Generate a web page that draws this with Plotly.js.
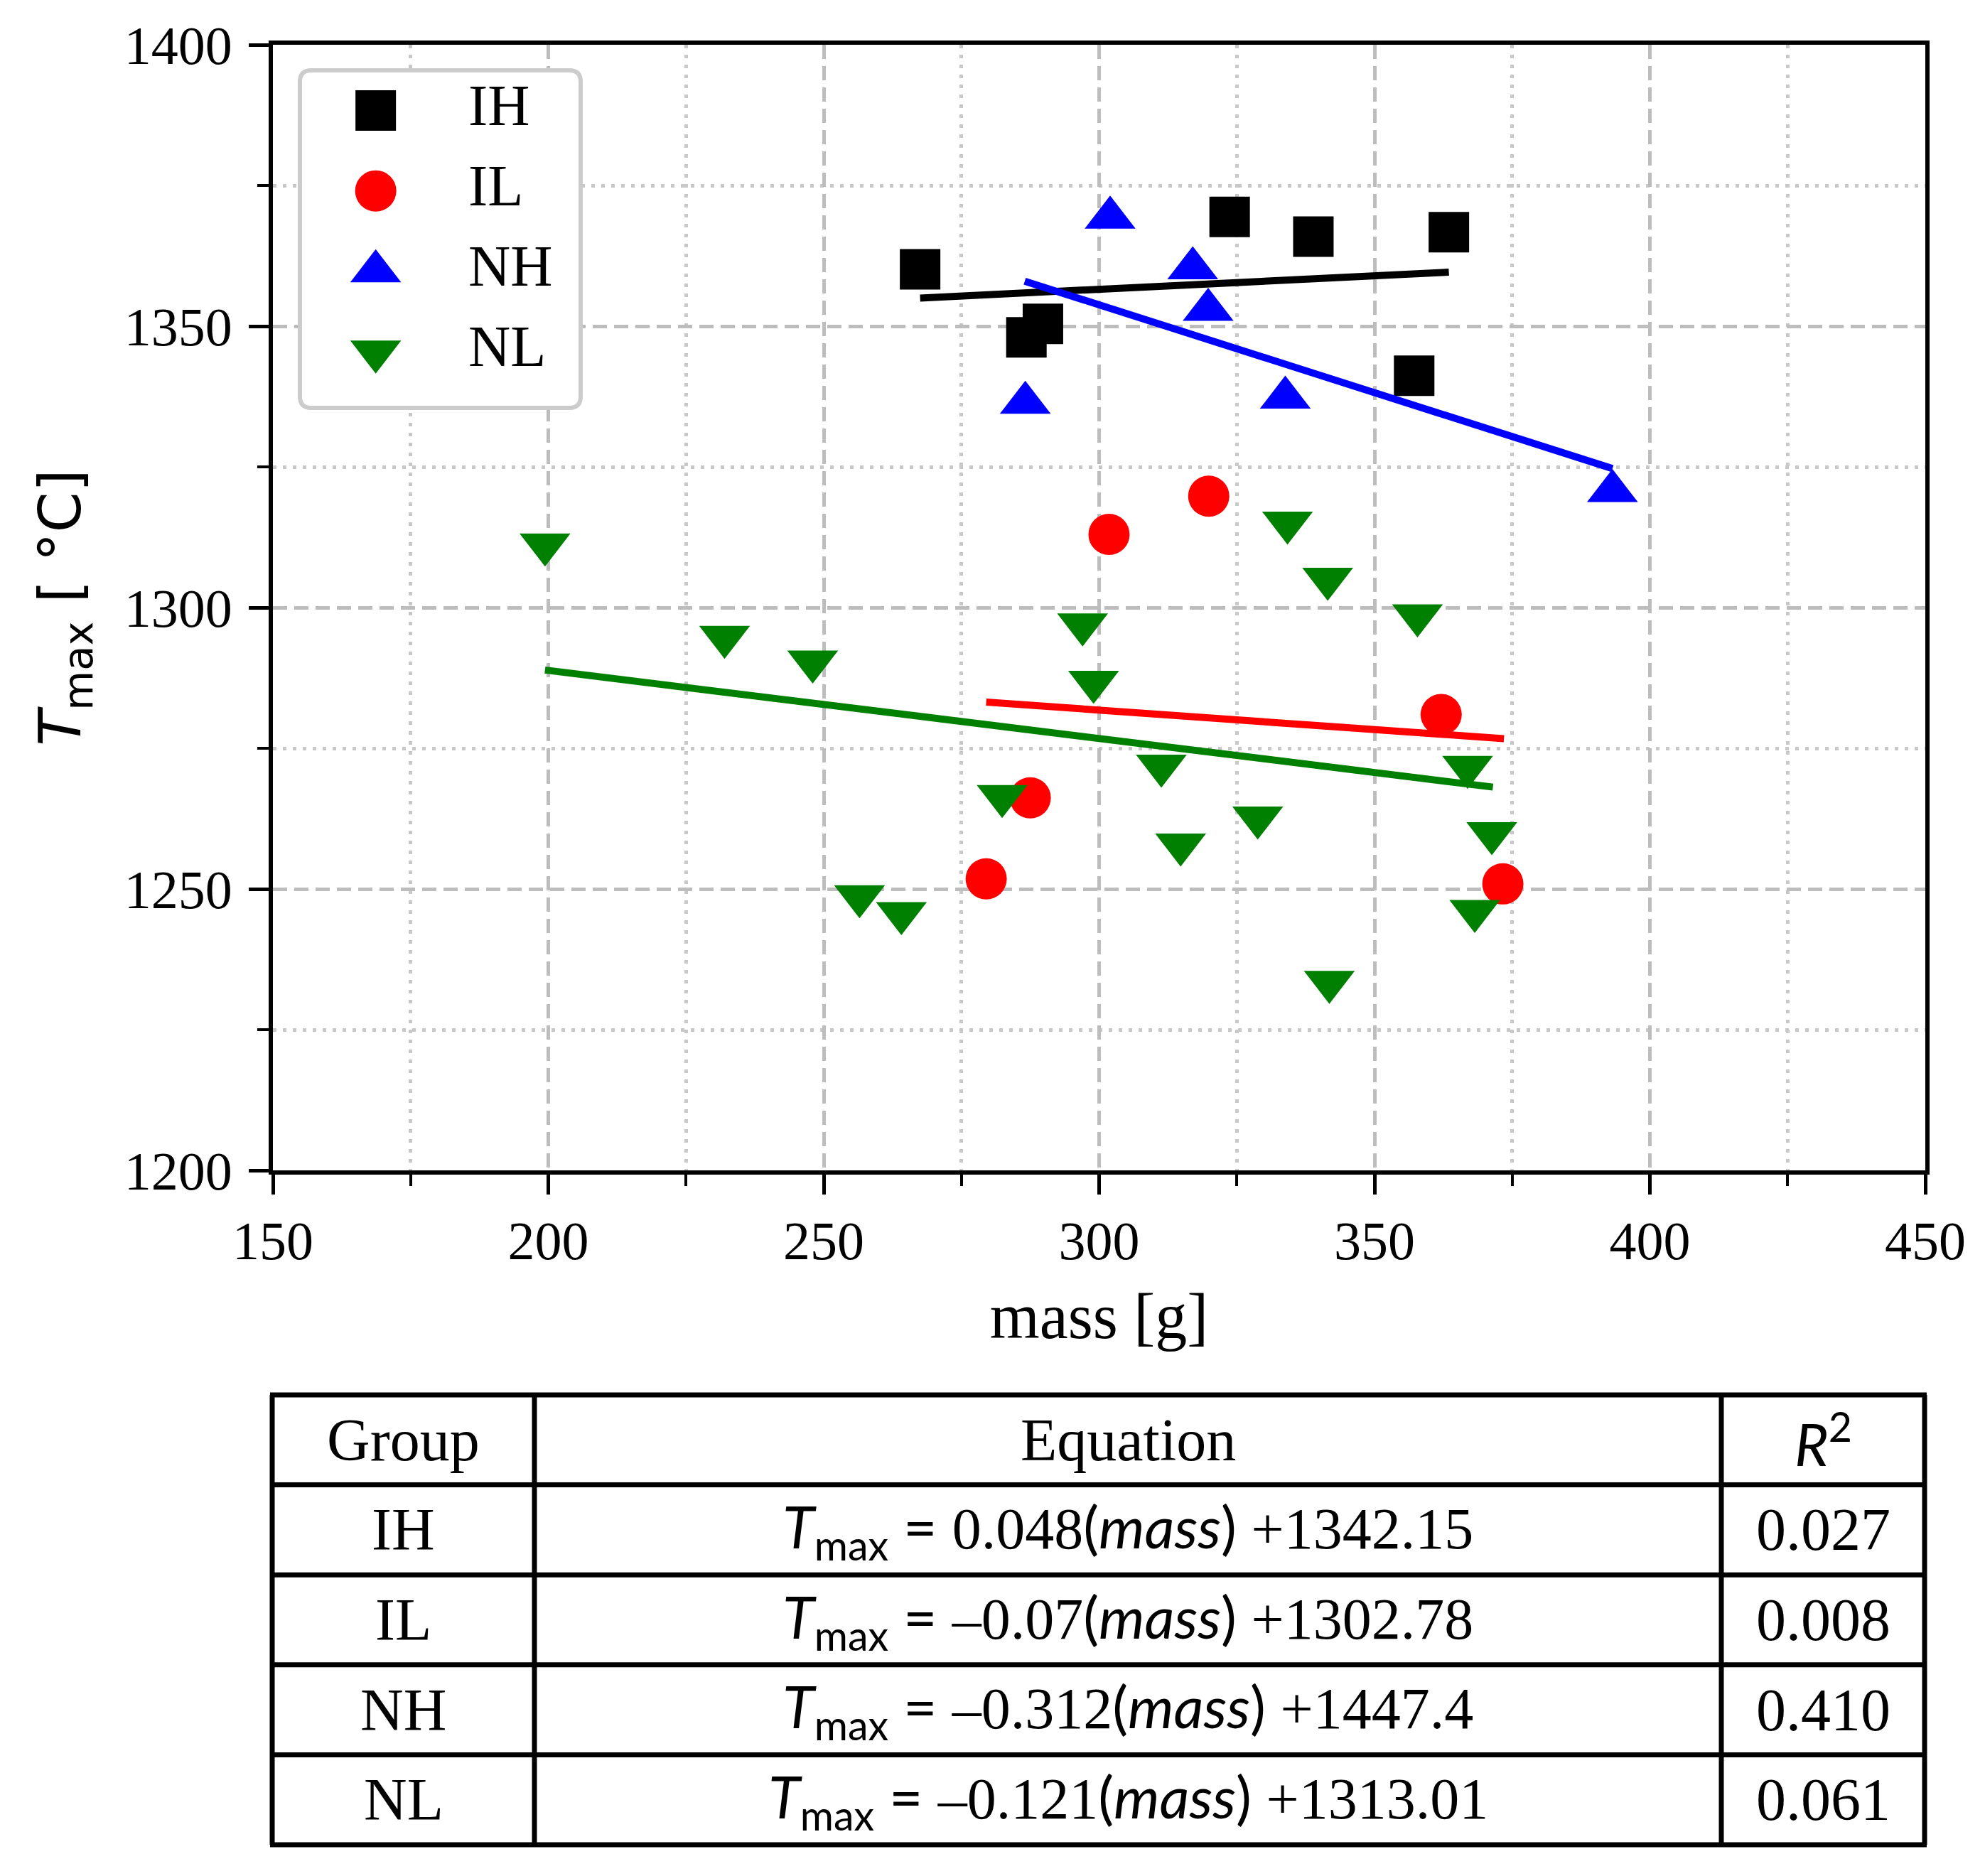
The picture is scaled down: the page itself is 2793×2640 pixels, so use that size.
<!DOCTYPE html>
<html>
<head>
<meta charset="utf-8">
<script src="https://cdn.plot.ly/plotly-3.0.1.min.js"></script>
<style>html,body{margin:0;padding:0;background:#fff;}</style>
</head>
<body>
<div id="chart" style="width:2793px;height:2640px;"></div>
<script>
// measured data (mass in g, Tmax in degC)
const massIH = [267.5, 286.8, 289.8, 323.7, 338.9, 357.2, 363.5];
const tmaxIH = [1360.1, 1348.0, 1350.4, 1369.4, 1365.9, 1341.2, 1366.7];
const massIL = [279.5, 287.5, 301.8, 319.9, 362.1, 373.3];
const tmaxIL = [1251.8, 1266.2, 1313.0, 1319.8, 1281.0, 1250.9];
const massNH = [286.6, 302.0, 317.0, 319.8, 333.8, 393.2];
const tmaxNH = [1336.4, 1369.3, 1360.3, 1352.9, 1337.3, 1320.7];
const massNL = [199.4, 232.0, 248.0, 256.5, 264.1, 282.4, 297.0, 299.0, 311.3, 314.8, 328.8, 334.2, 341.5, 341.8, 357.8, 366.9, 368.2, 371.3];
const tmaxNL = [1311.2, 1294.8, 1290.4, 1248.7, 1245.7, 1266.5, 1297.0, 1286.8, 1271.9, 1257.9, 1262.7, 1315.1, 1305.1, 1233.5, 1298.6, 1271.7, 1246.1, 1259.9];

// regression line end points
const fitMassIH = [267.5, 363.5], fitTmaxIH = [1355.0, 1359.6];
const fitMassIL = [279.5, 373.5], fitTmaxIL = [1283.2, 1276.7];
const fitMassNH = [286.5, 393.2], fitTmaxNH = [1358.0, 1324.7];
const fitMassNL = [199.4, 371.5], fitTmaxNL = [1288.9, 1268.1];

// table / legend content
const groupNames = ['IH', 'IL', 'NH', 'NL'];
const slopes = ['0.048', '–0.07', '–0.312', '–0.121'];
const intercepts = ['+1342.15', '+1302.78', '+1447.4', '+1313.01'];
const r2Values = ['0.027', '0.008', '0.410', '0.061'];
const tableHeader = ['Group', 'Equation', '<i>R</i><sup>2</sup>'];

const groupColors = ['#000000', '#ff0000', '#0000ff', '#008000'];
const groupSymbols = ['square', 'circle', 'triangle-up', 'triangle-down'];
const groupSizes = [57, 58, 62, 62];

const W = 2793, H = 2640;
const fx = p => p / W;
const fy = p => 1 - p / H;

const SERIF = 'Liberation Serif, Times New Roman, serif';
const SANS = 'DejaVu Sans, sans-serif';
const EQ_SANS = 'Lato, Open Sans, sans-serif';

const allMass = [massIH, massIL, massNH, massNL];
const allTmax = [tmaxIH, tmaxIL, tmaxNH, tmaxNL];
const fitMass = [fitMassIH, fitMassIL, fitMassNH, fitMassNL];
const fitTmax = [fitTmaxIH, fitTmaxIL, fitTmaxNH, fitTmaxNL];

let traces = [];
groupNames.forEach((g, i) => {
    traces.push({
        x: allMass[i], y: allTmax[i], name: g, type: 'scatter', mode: 'markers',
        marker: { color: groupColors[i], symbol: groupSymbols[i], size: groupSizes[i], line: { width: 0 } },
        showlegend: false, cliponaxis: false
    });
    traces.push({
        x: fitMass[i], y: fitTmax[i], name: g + ' fit', type: 'scatter', mode: 'lines',
        line: { color: groupColors[i], width: 10 }, showlegend: false
    });
});

// hand-made legend on its own small subplot
groupNames.forEach((g, i) => {
    traces.push({
        x: [0.27], y: [i], xaxis: 'x2', yaxis: 'y2', type: 'scatter', mode: 'markers',
        marker: { color: groupColors[i], symbol: groupSymbols[i], size: groupSizes[i] },
        showlegend: false, cliponaxis: false
    });
    traces.push({
        x: [0.6], y: [i], xaxis: 'x2', yaxis: 'y2', type: 'scatter', mode: 'text',
        text: [g], textposition: 'middle right',
        textfont: { family: SERIF, size: 82, color: '#000' },
        showlegend: false, cliponaxis: false
    });
});

// legend box with rounded corners
const lgL = 422, lgR = 817, lgT = 99, lgB = 574, rad = 16;
const lgPath = 'M' + fx(lgL + rad) + ',' + fy(lgT) +
    ' L' + fx(lgR - rad) + ',' + fy(lgT) + ' Q' + fx(lgR) + ',' + fy(lgT) + ' ' + fx(lgR) + ',' + fy(lgT + rad) +
    ' L' + fx(lgR) + ',' + fy(lgB - rad) + ' Q' + fx(lgR) + ',' + fy(lgB) + ' ' + fx(lgR - rad) + ',' + fy(lgB) +
    ' L' + fx(lgL + rad) + ',' + fy(lgB) + ' Q' + fx(lgL) + ',' + fy(lgB) + ' ' + fx(lgL) + ',' + fy(lgB - rad) +
    ' L' + fx(lgL) + ',' + fy(lgT + rad) + ' Q' + fx(lgL) + ',' + fy(lgT) + ' ' + fx(lgL + rad) + ',' + fy(lgT) + ' Z';

let shapes = [{
    type: 'path', xref: 'paper', yref: 'paper', path: lgPath,
    line: { color: '#cccccc', width: 6 }, layer: 'above'
}];

// table grid
const colEdges = [383, 752, 2422, 2708];
const tableTop = 1963, rowH = 126.6;
const nRows = groupNames.length + 1;
const tableBottom = tableTop + rowH * nRows;
for (let r = 0; r <= nRows; r++) {
    const yy = tableTop + r * rowH;
    shapes.push({ type: 'line', xref: 'paper', yref: 'paper', x0: fx(colEdges[0] - 3), x1: fx(colEdges[3] + 3), y0: fy(yy), y1: fy(yy), line: { color: '#000', width: 7 } });
}
colEdges.forEach(cx => {
    shapes.push({ type: 'line', xref: 'paper', yref: 'paper', x0: fx(cx), x1: fx(cx), y0: fy(tableTop), y1: fy(tableBottom), line: { color: '#000', width: 7 } });
});

let annotations = [];
const colCenters = [(colEdges[0] + colEdges[1]) / 2, (colEdges[1] + colEdges[2]) / 2, (colEdges[2] + colEdges[3]) / 2];
function cellText(txt, col, row, family, size) {
    annotations.push({
        xref: 'paper', yref: 'paper', x: fx(colCenters[col]), y: fy(tableTop + rowH * (row + 0.5)),
        xanchor: 'center', yanchor: 'middle', text: txt, showarrow: false,
        font: { family: family, size: size || 84, color: '#000' }
    });
}
cellText(tableHeader[0], 0, 0, SERIF);
cellText(tableHeader[1], 1, 0, SERIF);
cellText(tableHeader[2], 2, 0, EQ_SANS, 82);
groupNames.forEach((g, i) => {
    const eq = '<span style="font-family:' + EQ_SANS + '"><i>T</i><sub>max</sub> = </span>' + slopes[i] +
        '<span style="font-family:' + EQ_SANS + '">(<i>mass</i>)</span> ' + intercepts[i];
    cellText(g, 0, i + 1, SERIF);
    cellText(eq, 1, i + 1, SERIF, 82);
    cellText(r2Values[i], 2, i + 1, SERIF);
});

const tickFont = { family: SERIF, size: 76, color: '#000' };
const layout = {
    width: W, height: H,
    margin: { l: 0, r: 0, t: 0, b: 0 },
    paper_bgcolor: '#ffffff', plot_bgcolor: '#ffffff',
    showlegend: false,
    xaxis: {
        domain: [fx(384), fx(2709)], range: [150, 450], tick0: 150, dtick: 50,
        ticks: 'outside', ticklen: 28, tickwidth: 5, tickcolor: '#000',
        showline: true, linewidth: 6, linecolor: '#000', mirror: true,
        showgrid: true, gridcolor: '#bdbdbd', gridwidth: 5, griddash: '20px,10px',
        zeroline: false, tickfont: tickFont, ticklabelstandoff: 0,
        minor: { dtick: 25, ticks: 'outside', ticklen: 16, tickwidth: 4, tickcolor: '#000',
                 showgrid: true, gridcolor: '#c8c8c8', gridwidth: 5, griddash: '5px,9px' },
        title: { text: 'mass [g]', font: { family: SERIF, size: 90, color: '#000' }, standoff: 35 }
    },
    yaxis: {
        domain: [fy(1647), fy(63)], range: [1200, 1400], tick0: 1200, dtick: 50,
        ticks: 'outside', ticklen: 28, tickwidth: 5, tickcolor: '#000',
        showline: true, linewidth: 6, linecolor: '#000', mirror: true,
        showgrid: true, gridcolor: '#bdbdbd', gridwidth: 5, griddash: '20px,10px',
        zeroline: false, tickfont: tickFont, ticklabelstandoff: 8,
        minor: { dtick: 25, ticks: 'outside', ticklen: 16, tickwidth: 4, tickcolor: '#000',
                 showgrid: true, gridcolor: '#c8c8c8', gridwidth: 5, griddash: '5px,9px' },
        title: { text: '<i>T</i><sub>max</sub> [ °C]', font: { family: SANS, size: 82, color: '#000' }, standoff: 36 }
    },
    xaxis2: {
        domain: [fx(lgL), fx(lgR)], range: [0, 1], anchor: 'y2', visible: false, fixedrange: true
    },
    yaxis2: {
        domain: [fy(lgB), fy(lgT)], range: [3.7, -0.5], anchor: 'x2', visible: false, fixedrange: true
    },
    shapes: shapes,
    annotations: annotations
};

Plotly.newPlot('chart', traces, layout, { displayModeBar: false, staticPlot: true });
</script>
</body>
</html>
